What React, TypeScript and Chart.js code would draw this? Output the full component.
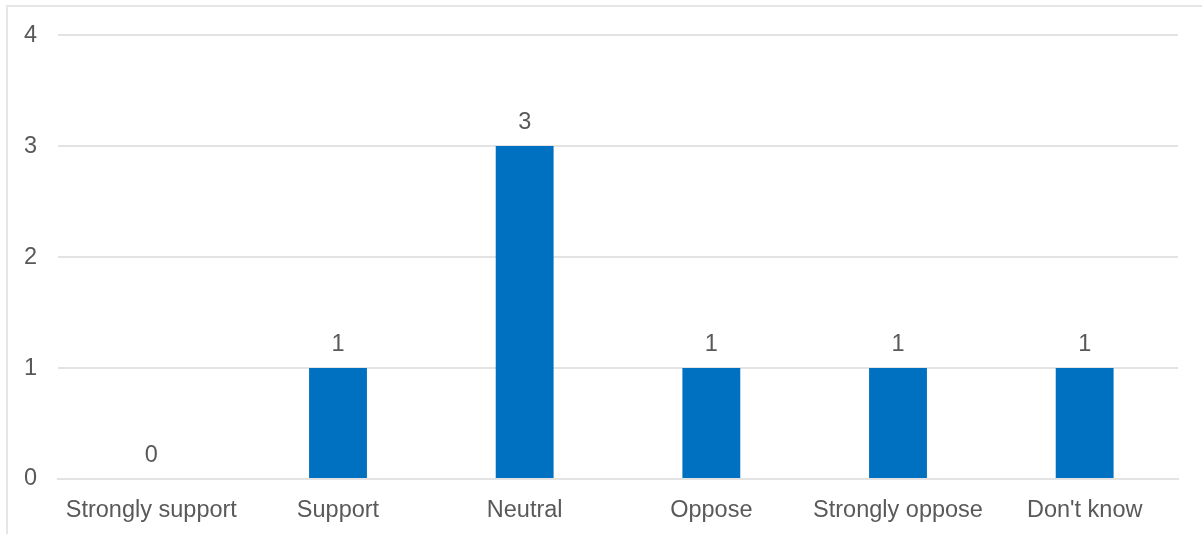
import React, { useEffect, useRef } from "react";
import { Chart, registerables } from "chart.js";

Chart.register(...registerables);

const categories = ["Strongly support", "Support", "Neutral", "Oppose", "Strongly oppose", "Don't know"];
const counts = [0, 1, 3, 1, 1, 1];
const yTicks = [0, 1, 2, 3, 4];

const FONT = "'Liberation Sans', Arial, sans-serif";
const TEXT = "#595959";
const FS = 23.5;

const valueLabels = {
  id: "valueLabels",
  afterDatasetsDraw(chart: any) {
    const ctx = chart.ctx;
    const meta = chart.getDatasetMeta(0);
    ctx.save();
    ctx.font = `${FS}px ${FONT}`;
    ctx.fillStyle = TEXT;
    ctx.textAlign = "center";
    ctx.textBaseline = "alphabetic";
    meta.data.forEach((bar: any, i: number) => {
      ctx.fillText(String(counts[i]), bar.x, bar.y - 17);
    });
    ctx.restore();
  },
};

export default function App() {
  const ref = useRef<HTMLCanvasElement>(null);
  useEffect(() => {
    document.body.style.margin = "0";
    const chart = new Chart(ref.current!, {
      type: "bar",
      data: {
        labels: categories,
        datasets: [
          {
            data: counts,
            backgroundColor: "#0070C0",
            barPercentage: 0.31,
            categoryPercentage: 1,
          },
        ],
      },
      options: {
        responsive: false,
        animation: false,
        layout: { padding: { top: 35, right: 24, left: 0, bottom: 0 } },
        plugins: { legend: { display: false }, tooltip: { enabled: false } },
        scales: {
          x: {
            grid: { display: false, drawTicks: false },
            border: { display: true, color: "#e3e3e3", width: 2 },
            ticks: { color: TEXT, font: { size: FS, family: FONT }, padding: 17, maxRotation: 0, autoSkip: false },
            afterFit: (s: any) => { s.height = 55; },
          },
          y: {
            min: 0,
            max: 4,
            afterBuildTicks: (s: any) => { s.ticks = yTicks.map((v) => ({ value: v })); },
            grid: { color: "#e3e3e3", lineWidth: 2, drawTicks: false },
            border: { display: false },
            ticks: { color: TEXT, font: { size: FS, family: FONT }, padding: 21 },
            afterFit: (s: any) => { s.width = 58; },
          },
        },
      },
      plugins: [valueLabels],
    });
    return () => chart.destroy();
  }, []);
  return (
    <div style={{ position: "absolute", left: 0, top: 0, width: 1202, height: 534, overflow: "hidden", background: "#fff" }}>
      <div style={{ position: "absolute", left: 6, top: 5, width: 1210, height: 540, border: "2px solid #e6e6e6", boxSizing: "border-box" }} />
      <canvas ref={ref} width={1202} height={534} style={{ position: "absolute", left: 0, top: 0 }} />
    </div>
  );
}
